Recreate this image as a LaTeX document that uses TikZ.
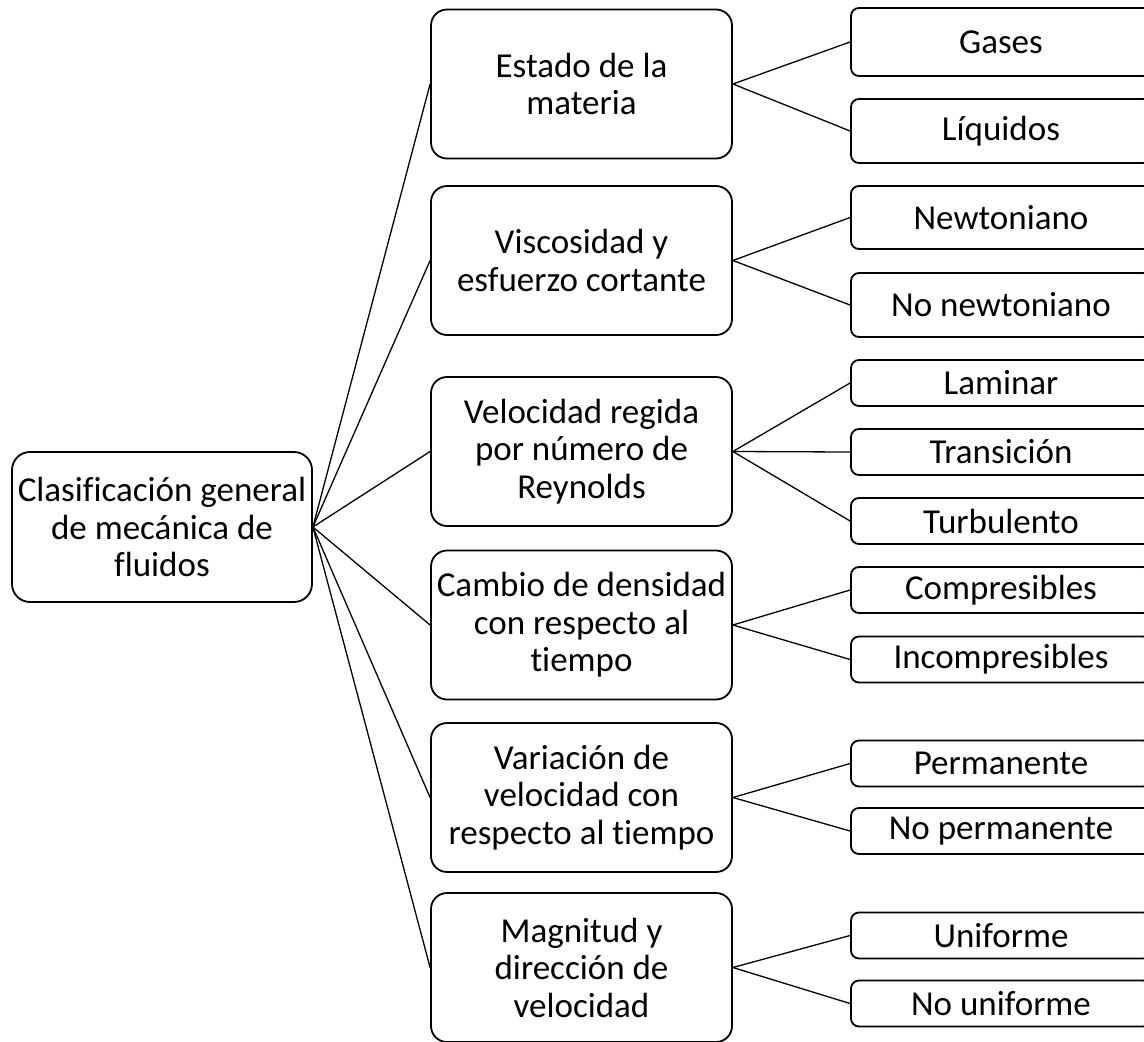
\documentclass[tikz,border=0pt]{standalone}
\usepackage{fontspec}
\setmainfont{Carlito}[Ligatures=NoCommon]
\usepackage{tikz}

\begin{document}
\begin{tikzpicture}[x=1pt,y=-1pt,
      box/.style={draw, line width=1.8pt, align=center, inner sep=0pt,
        font=\fontsize{35}{37.5}\selectfont},
      root/.style={box, rounded corners=18pt, minimum width=300pt, minimum height=150pt},
      cat/.style={box, rounded corners=16pt, minimum width=301pt, minimum height=149pt},
      leaf/.style={box, rounded corners=8pt, minimum width=300pt, minimum height=46pt},
      link/.style={line width=1.3pt}]
      \useasboundingbox (0,0) rectangle (1144,1042);

      \node[root] (clas) at (162,527) {Clasificación general\\de mecánica de\\fluidos};

      \node[cat] (estado) at (581.5,84) {Estado de la\\materia};
      \node[cat] (visc) at (581.5,260.5) {Viscosidad y\\esfuerzo cortante};
      \node[cat] (reyn) at (581.5,451.5) {Velocidad regida\\por número de\\Reynolds};
      \node[cat] (dens) at (581.5,625) {Cambio de densidad\\con respecto al\\tiempo};
      \node[cat] (vari) at (581.5,797.5) {Variación de\\velocidad con\\respecto al tiempo};
      \node[cat] (magn) at (581.5,967.5) {Magnitud y\\dirección de\\velocidad};

      \node[leaf, minimum height=68pt] (gases) at (1001,42) {Gases};
      \node[leaf, minimum height=64pt] (liq) at (1001,131) {Líquidos};
      \node[leaf, minimum height=63pt] (newt) at (1001,217.5) {Newtoniano};
      \node[leaf, minimum height=64pt] (nonewt) at (1001,305) {No newtoniano};
      \node[leaf] (lam) at (1001,383) {Laminar};
      \node[leaf] (trans) at (1001,452) {Transición};
      \node[leaf] (turb) at (1001,521) {Turbulento};
      \node[leaf] (comp) at (1001,590) {Compresibles};
      \node[leaf] (incomp) at (1001,659.5) {Incompresibles};
      \node[leaf] (perm) at (1001,763.5) {Permanente};
      \node[leaf] (noperm) at (1001,831) {No permanente};
      \node[leaf] (unif) at (1001,935.5) {Uniforme};
      \node[leaf] (nounif) at (1001,1003.5) {No uniforme};

      \draw[link] (clas.east) -- (estado.west);
      \draw[link] (clas.east) -- (visc.west);
      \draw[link] (clas.east) -- (reyn.west);
      \draw[link] (clas.east) -- (dens.west);
      \draw[link] (clas.east) -- (vari.west);
      \draw[link] (clas.east) -- (magn.west);

      \draw[link] (estado.east) -- (gases.west);
      \draw[link] (estado.east) -- (liq.west);
      \draw[link] (visc.east) -- (newt.west);
      \draw[link] (visc.east) -- (nonewt.west);
      \draw[link] (reyn.east) -- (lam.west);
      \draw[link] (reyn.east) -- (trans.west);
      \draw[link] (reyn.east) -- (turb.west);
      \draw[link] (dens.east) -- (comp.west);
      \draw[link] (dens.east) -- (incomp.west);
      \draw[link] (vari.east) -- (perm.west);
      \draw[link] (vari.east) -- (noperm.west);
      \draw[link] (magn.east) -- (unif.west);
      \draw[link] (magn.east) -- (nounif.west);
    \end{tikzpicture}
\end{document}
